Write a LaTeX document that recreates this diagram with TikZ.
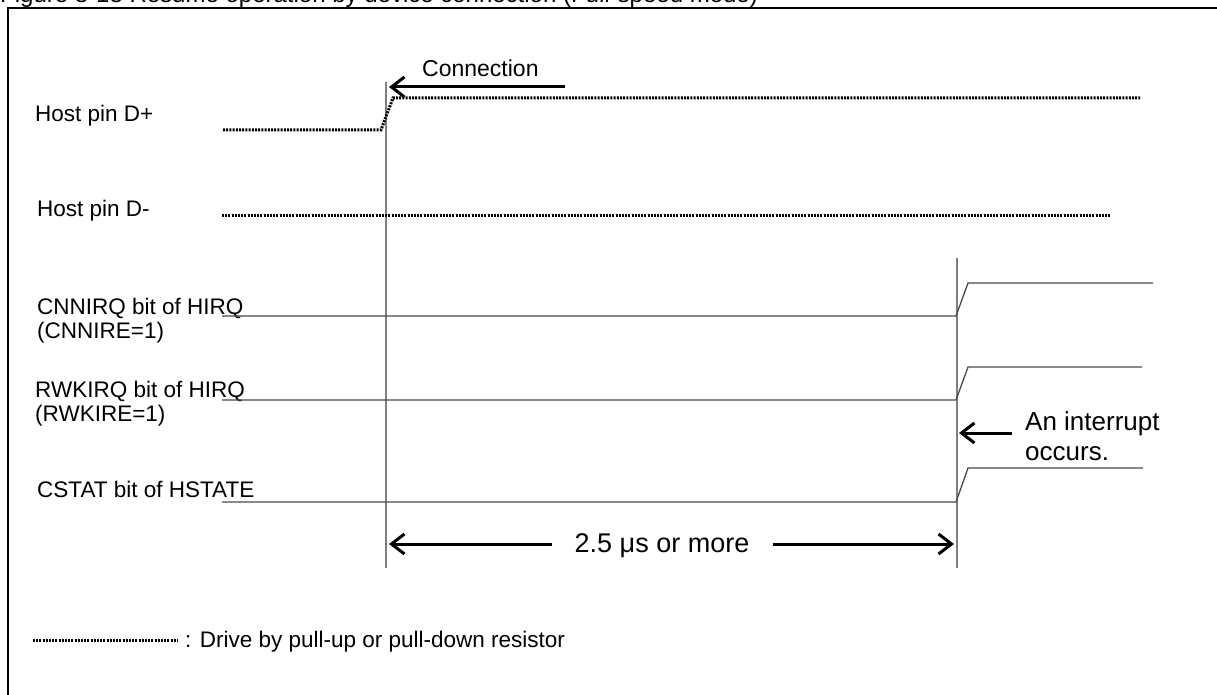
\documentclass[tikz,border=0pt]{standalone}
\usepackage{fontspec}
\setmainfont{Liberation Sans}
\usetikzlibrary{arrows.meta}
\definecolor{tdink}{HTML}{000000}
\definecolor{tdgrid}{HTML}{7F7F7F}
\definecolor{tdline}{HTML}{4A4A4A}
\tikzset{
  lbl/.style={anchor=base west, inner sep=0pt, align=left, font=\fontsize{22.5}{24}\selectfont},
  note/.style={anchor=base west, inner sep=0pt, align=left, font=\fontsize{26}{30}\selectfont},
  pull/.style={line width=3pt, dash pattern=on 2pt off 1.2pt, color=tdink},
  sig/.style={line width=1.3pt, color=tdline},
  guide/.style={line width=1.3pt, color=tdgrid},
  arr/.style={-{Straight Barb[length=13pt, width=20pt]}, line width=3pt, color=tdink},
  frm/.style={line width=2.2pt, color=tdink},
}

\begin{document}
\begin{tikzpicture}[x=1pt, y=-1pt]
  \useasboundingbox (0,0) rectangle (1217,695);
  \clip (0,0) rectangle (1217,695);
  \node[note, font=\fontsize{24}{28}\selectfont] (title) at (0,3) {Figure 8-18 Resume operation by device connection (Full-speed mode)};
  \draw[frm] (8,8) rectangle (1260,730);

  % event lines
  \coordinate (cn) at (386,82);  \coordinate (cnb) at (386,568);
  \coordinate (it) at (957,258); \coordinate (itb) at (957,568);
  \draw[guide] (cn) -- (cnb);
  \draw[guide] (it) -- (itb);

  % signal names (base = last line)
  \node[lbl] (dp) at (35,122) {Host pin D+};
  \node[lbl] (dm) at (37,216) {Host pin D-};
  \node[lbl] (cnn) at (37,338) {CNNIRQ bit of HIRQ\\(CNNIRE=1)};
  \node[lbl] (rwk) at (35,421) {RWKIRQ bit of HIRQ\\(RWKIRE=1)};
  \node[lbl] (cst) at (37,497) {CSTAT bit of HSTATE};

  % waveforms
  \draw[pull] (223,130) -- (381,130) -- (393,98) -- (1140,98);
  \draw[pull] (222,215) -- (1110,215);
  \foreach \lo/\hi/\xe in {316/283/1153, 400/367/1142, 502/468/1143}
    \draw[sig] (222,\lo) -- (956,\lo) -- (968,\hi) -- (\xe,\hi);

  % connection
  \node[lbl, font=\fontsize{23}{25}\selectfont] (conn) at (422,77) {Connection};
  \coordinate (connA) at (565,87);
  \coordinate (connB) at (389,87);
  \draw[arr] (connA) -- (connB);

  % interrupt
  \node[note] (irq) at (1025,460) {An interrupt\\occurs.};
  \coordinate (irqA) at (1012,433);
  \coordinate (irqB) at (959,433);
  \draw[arr] (irqA) -- (irqB);

  % duration
  \coordinate (durL) at (389,544);
  \coordinate (durR) at (954,544);
  \node[note, font=\fontsize{27}{30}\selectfont, anchor=base, inner xsep=23pt] (dur) at (662,552) {2.5 μs or more};
  \draw[arr] (dur.west |- durL) -- (durL);
  \draw[arr] (dur.east |- durR) -- (durR);

  % legend
  \coordinate (lgA) at (33,640);
  \coordinate (lgB) at (178,640);
  \draw[pull] (lgA) -- (lgB);
  \node[lbl] (lg) at (185,647) {: Drive by pull-up or pull-down resistor};
\end{tikzpicture}
\end{document}
